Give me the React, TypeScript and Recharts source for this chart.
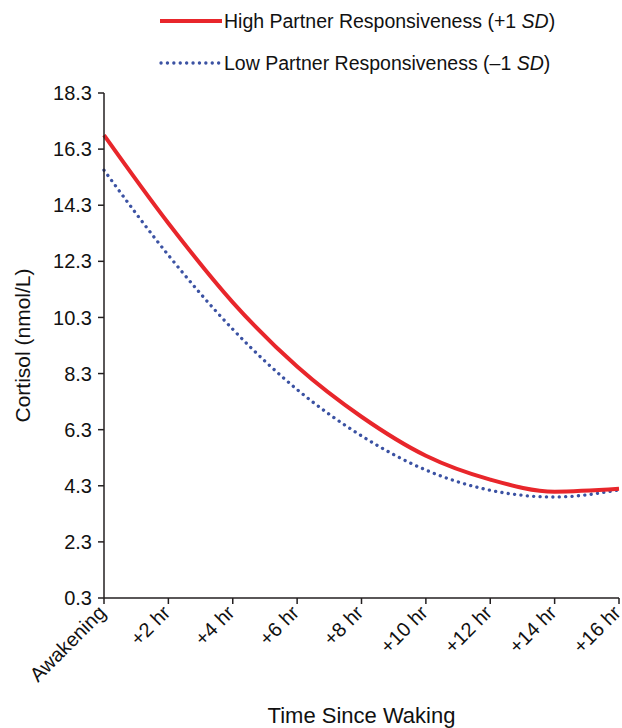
import { LineChart, Line, XAxis, YAxis, Label } from "recharts";

const times = ["Awakening", "+2 hr", "+4 hr", "+6 hr", "+8 hr", "+10 hr", "+12 hr", "+14 hr", "+16 hr"];
const highResp = [16.8, 13.66, 10.84, 8.55, 6.76, 5.37, 4.52, 4.09, 4.19];
const lowResp = [15.55, 12.52, 9.88, 7.73, 6.08, 4.86, 4.14, 3.9, 4.15];
const yTicks = [0.3, 2.3, 4.3, 6.3, 8.3, 10.3, 12.3, 14.3, 16.3, 18.3];

const data = times.map((t, i) => ({ time: t, high: highResp[i], low: lowResp[i] }));

const FONT = '"Liberation Sans", Arial, sans-serif';
const RED = "#e8262b";
const BLUE = "#3b52a3";
const AXIS = "#231f20";

const XTick = ({ x, y, payload }: any) => {
  const px = x + 3;
  const py = y + 8;
  return (
    <text
      x={px}
      y={py}
      transform={`rotate(-45, ${px}, ${py})`}
      textAnchor="end"
      fontSize={20}
      fontFamily={FONT}
      fill="#111"
    >
      {payload.value}
    </text>
  );
};

const LegendBox = () => (
  <div
    style={{
      position: "absolute",
      left: 158,
      top: 0,
      fontFamily: FONT,
      fontSize: 19.5,
      color: "#111",
      lineHeight: "42px",
    }}
  >
    <div style={{ display: "flex", alignItems: "center" }}>
      <svg width={66} height={10}>
        <line x1={2} y1={5} x2={64} y2={5} stroke={RED} strokeWidth={4} />
      </svg>
      <span>
        High Partner Responsiveness (+1 <i>SD</i>)
      </span>
    </div>
    <div style={{ display: "flex", alignItems: "center" }}>
      <svg width={66} height={10}>
        <line
          x1={3}
          y1={5}
          x2={62}
          y2={5}
          stroke={BLUE}
          strokeWidth={3.3}
          strokeLinecap="round"
          strokeDasharray="0.1 6.3"
        />
      </svg>
      <span>
        Low Partner Responsiveness (–1 <i>SD</i>)
      </span>
    </div>
  </div>
);

export default function App() {
  return (
    <div style={{ position: "relative", width: 622, height: 728, background: "#fff" }}>
      <style>{`body{margin:0}`}</style>
      <LineChart
        width={622}
        height={728}
        data={data}
        margin={{ top: 93, right: 3, left: 0, bottom: 0 }}
      >
        <XAxis
          dataKey="time"
          height={130}
          interval={0}
          stroke={AXIS}
          strokeWidth={1.5}
          tickSize={6}
          tickLine={{ stroke: AXIS, strokeWidth: 1.5 }}
          tick={<XTick />}
        >
          <Label
            value="Time Since Waking"
            position="insideBottom"
            offset={5}
            style={{ fontSize: 22, fontFamily: FONT, fill: "#111" }}
          />
        </XAxis>
        <YAxis
          width={104}
          domain={[0.3, 18.3]}
          ticks={yTicks}
          interval={0}
          stroke={AXIS}
          strokeWidth={1.5}
          tickSize={6}
          tickMargin={6}
          tickFormatter={(v: number) => v.toFixed(1)}
          tick={{ fontSize: 20, fontFamily: FONT, fill: "#111" }}
        >
          <Label
            content={({ viewBox }: any) => {
              const cx = viewBox.x + 22;
              const cy = viewBox.y + viewBox.height / 2;
              return (
                <text
                  x={cx}
                  y={cy}
                  transform={`rotate(-90, ${cx}, ${cy})`}
                  textAnchor="middle"
                  dominantBaseline="central"
                  fontSize={21}
                  fontFamily={FONT}
                  fill="#111"
                >
                  Cortisol (nmol/L)
                </text>
              );
            }}
          />
        </YAxis>
        <Line
          type="monotone"
          dataKey="low"
          stroke={BLUE}
          strokeWidth={3.3}
          strokeLinecap="round"
          strokeDasharray="0.1 6.3"
          dot={false}
          activeDot={false}
          isAnimationActive={false}
        />
        <Line
          type="monotone"
          dataKey="high"
          stroke={RED}
          strokeWidth={4}
          dot={false}
          activeDot={false}
          isAnimationActive={false}
        />
      </LineChart>
      <LegendBox />
    </div>
  );
}
